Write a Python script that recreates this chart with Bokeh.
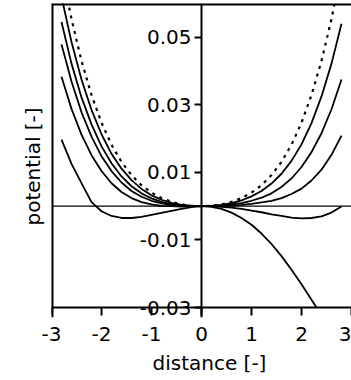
from bokeh.plotting import figure
from bokeh.models import LinearAxis, FixedTicker, Span, Title
from bokeh.embed import file_html
from bokeh.resources import INLINE

# ---- data ----
distance = [-2.8, -2.6, -2.4, -2.2, -2.0, -1.8, -1.6, -1.4, -1.2, -1.0, -0.8, -0.6, -0.4, -0.2,
            0.0, 0.2, 0.4, 0.6, 0.8, 1.0, 1.2, 1.4, 1.6, 1.8, 2.0, 2.2, 2.4, 2.6, 2.8]

reference_dotted = [0.0704, 0.0554, 0.0430, 0.0329, 0.0247, 0.0182, 0.0131, 0.0092, 0.0062, 0.0040,
                    0.0024, 0.0013, 0.0005, 0.0001, 0.0, 0.0001, 0.0005, 0.0013, 0.0024, 0.0040,
                    0.0062, 0.0092, 0.0131, 0.0182, 0.0247, 0.0329, 0.0430, 0.0554, 0.0704]

potential_1 = [0.0620, 0.0486, 0.0375, 0.0285, 0.0213, 0.0155, 0.0111, 0.0077, 0.0051, 0.0032,
               0.0019, 0.0010, 0.0004, 0.0001, 0.0, 0.0001, 0.0004, 0.0009, 0.0017, 0.0029,
               0.0045, 0.0067, 0.0096, 0.0134, 0.0183, 0.0246, 0.0325, 0.0422, 0.0540]

potential_2 = [0.0545, 0.0422, 0.0322, 0.0242, 0.0177, 0.0127, 0.0088, 0.0059, 0.0038, 0.0023,
               0.0013, 0.0006, 0.0003, 0.0001, 0.0, 0.0001, 0.0002, 0.0005, 0.0009, 0.0016,
               0.0025, 0.0038, 0.0057, 0.0082, 0.0116, 0.0160, 0.0216, 0.0287, 0.0375]

potential_3 = [0.0479, 0.0369, 0.0278, 0.0206, 0.0148, 0.0104, 0.0070, 0.0045, 0.0028, 0.0016,
               0.0008, 0.0004, 0.0001, 0.0, 0.0, 0.0, 0.0001, 0.0002, 0.0004, 0.0007,
               0.0011, 0.0016, 0.0024, 0.0036, 0.0052, 0.0076, 0.0108, 0.0152, 0.0209]

potential_4 = [0.0383, 0.0288, 0.0212, 0.0151, 0.0104, 0.0068, 0.0042, 0.0024, 0.0012, 0.0005,
               0.0001, 0.0, -0.0001, 0.0, 0.0, 0.0, -0.0002, -0.0004, -0.0008, -0.0013,
               -0.0018, -0.0024, -0.0029, -0.0034, -0.0036, -0.0035, -0.0030, -0.0019, -0.0001]

# the fifth curve leaves the plot through the bottom axis at about distance 2.3
distance_5 = [-2.8, -2.6, -2.4, -2.2, -2.0, -1.8, -1.6, -1.4, -1.2, -1.0, -0.8, -0.6, -0.4, -0.2,
              0.0, 0.2, 0.4, 0.6, 0.8, 1.0, 1.2, 1.4, 1.6, 1.8, 2.0, 2.2, 2.3]
potential_5 = [0.0197, 0.0125, 0.0068, 0.0012, -0.0015, -0.0029, -0.0035, -0.0035, -0.0032, -0.0026,
               -0.0020, -0.0014, -0.0008, -0.0003, 0.0, -0.0002, -0.0008, -0.0019, -0.0035, -0.0055,
               -0.0081, -0.0112, -0.0148, -0.0188, -0.0231, -0.0277, -0.0300]

x_ticks = [-3, -2, -1, 0, 1, 2, 3]
x_tick_labels = ["-3", "-2", "-1", "0", "1", "2", "3"]
y_ticks = [-0.03, -0.01, 0.01, 0.03, 0.05]
y_tick_labels = ["-0.03", "-0.01", "0.01", "0.03", "0.05"]
x_title = "distance  [-]"
y_title = "potential  [-]"

X_MIN, X_MAX = -3, 3
Y_AXIS_AT, Y_TOP = -0.03, 0.06

FONT = "DejaVu Sans"
FS = "20px"

# frame reaches a few pixels below the bottom axis line so that the
# "-0.03" label centred on that line is not cut off
p = figure(width=351, height=380, x_range=(X_MIN, X_MAX), y_range=(-0.03296, Y_TOP),
           x_axis_type=None, y_axis_type=None,
           output_backend="svg", toolbar_location=None,
           min_border_left=51, min_border_right=0, min_border_top=3, min_border_bottom=63)
p.outline_line_color = None
p.background_fill_color = "white"
p.border_fill_color = "white"

# box lines: left and top
p.add_layout(Span(location=X_MIN, dimension="height", line_color="black", line_width=4))
p.add_layout(Span(location=Y_TOP, dimension="width", line_color="black", line_width=4))

# bottom axis line with ticks, fixed at y = -0.03
xline = LinearAxis(fixed_location=Y_AXIS_AT, ticker=FixedTicker(ticks=x_ticks))
xline.axis_line_width = 2
xline.major_tick_line_width = 2
xline.major_tick_out = 8
xline.major_tick_in = 0
xline.minor_tick_line_color = None
xline.major_label_text_color = None
p.add_layout(xline, "below")

# bottom tick labels
xlabels = LinearAxis(ticker=FixedTicker(ticks=x_ticks),
                     major_label_overrides=dict(zip(x_ticks, x_tick_labels)))
xlabels.axis_line_color = None
xlabels.major_tick_line_color = None
xlabels.minor_tick_line_color = None
xlabels.major_tick_out = 0
xlabels.major_tick_in = 0
xlabels.minor_tick_out = 0
xlabels.major_label_standoff = 9
xlabels.major_label_text_font = FONT
xlabels.major_label_text_font_size = FS
xlabels.major_label_text_color = "black"
p.add_layout(xlabels, "below")

# x title
p.add_layout(Title(text=x_title, align="left", offset=101, standoff=10,
                   text_font=FONT, text_font_size=FS, text_font_style="normal",
                   text_color="black"), "below")

# y axis crossing at distance = 0
yaxis = LinearAxis(fixed_location=0, ticker=FixedTicker(ticks=y_ticks),
                   major_label_overrides=dict(zip(y_ticks, y_tick_labels)))
yaxis.axis_line_width = 2
yaxis.major_tick_line_width = 2
yaxis.major_tick_out = 7
yaxis.major_tick_in = 0
yaxis.minor_tick_line_color = None
yaxis.major_label_standoff = 3
yaxis.major_label_text_font = FONT
yaxis.major_label_text_font_size = FS
yaxis.major_label_text_color = "black"
p.add_layout(yaxis, "left")

# y title at the left edge
p.add_layout(Title(text=y_title, align="left", offset=92, standoff=14,
                   text_font=FONT, text_font_size=FS, text_font_style="normal",
                   text_color="black"), "left")

# zero line
p.add_layout(Span(location=0, dimension="width", line_color="black", line_width=1.2))

for series in [potential_1, potential_2, potential_3, potential_4]:
    p.line(distance, series, line_color="black", line_width=1.8)
p.line(distance_5, potential_5, line_color="black", line_width=1.8)

p.line(distance, reference_dotted, line_color="black", line_width=2.2, line_dash="3 5")

open("out.html", "w").write(file_html(p, INLINE))
